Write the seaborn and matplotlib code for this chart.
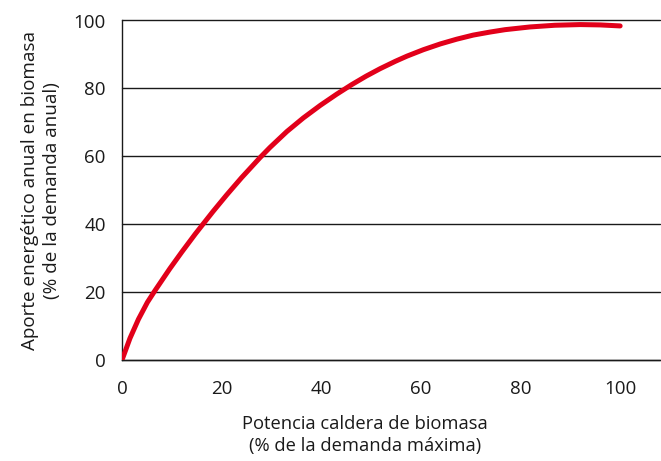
import matplotlib
matplotlib.use("Agg")
import matplotlib.pyplot as plt
import seaborn as sns
import pandas as pd

potencia = [0, 1.6, 3.3, 5.1, 6.6, 9.6, 12.0, 14.7, 16.2, 18.3, 21.0, 24.0, 27.7,
            29.7, 33.1, 36.4, 39.8, 43.1, 46.1, 49.0, 51.8, 54.9, 57.2, 60.5,
            63.9, 67.2, 70.5, 73.9, 76.9, 81.9, 86.9, 92.0, 96.0, 100.0]
aporte = [0, 6.4, 12.0, 17.0, 20.4, 26.9, 31.8, 37.1, 39.9, 43.8, 48.6, 53.7, 59.6,
          62.6, 67.3, 71.3, 75.0, 78.3, 81.1, 83.6, 85.8, 88.0, 89.5, 91.4,
          93.1, 94.5, 95.7, 96.6, 97.3, 98.1, 98.6, 98.8, 98.7, 98.4]
xticks = [0, 20, 40, 60, 80, 100]
yticks = [0, 20, 40, 60, 80, 100]
xlabel = "Potencia caldera de biomasa\n(% de la demanda máxima)"
ylabel = "Aporte energético anual en biomasa\n(% de la demanda anual)"

sns.set_theme(style="white")
plt.rcParams['font.family'] = ['Open Sans', 'DejaVu Sans']

df = pd.DataFrame({"x": potencia, "y": aporte})

W, H = 661, 461
fig = plt.figure(figsize=(W / 100, H / 100), dpi=100)
ax = fig.add_axes([122 / W, 1 - 360 / H, (660 - 122) / W, (360 - 20.5) / H])

sns.lineplot(data=df, x="x", y="y", ax=ax, color="#E2001A", linewidth=3.6,
             solid_capstyle="round", solid_joinstyle="round", zorder=5)

ax.set_xlim(0, 108)
ax.set_ylim(0, 100)
ax.set_xticks(xticks)
ax.set_yticks(yticks)
ax.set_xticklabels([str(t) for t in xticks])
ax.set_yticklabels([str(t) for t in yticks])

for s in ["top", "right"]:
    ax.spines[s].set_visible(False)
for s in ["left", "bottom"]:
    ax.spines[s].set_color("#1a1a1a")
    ax.spines[s].set_linewidth(1.0)

ax.grid(axis="y", color="#1a1a1a", linewidth=1.0)
ax.grid(axis="x", visible=False)
for ln in ax.get_ygridlines():
    ln.set_clip_on(False)

ax.tick_params(axis="both", direction="out", length=7.2, width=1.0, color="#1a1a1a",
               labelsize=13.5, labelcolor="#1a1a1a")
ax.tick_params(axis="y", pad=4.5)
ax.tick_params(axis="x", pad=7.5)

ax.set_xlabel(xlabel, fontsize=13.2, color="#1a1a1a", linespacing=1.3)
ax.set_ylabel(ylabel, fontsize=13.6, color="#1a1a1a", linespacing=1.3)
ax.xaxis.set_label_coords(0.452, -0.162)
ax.yaxis.set_label_coords(-0.113, 0.5)

fig.savefig("out.png", dpi=100)
